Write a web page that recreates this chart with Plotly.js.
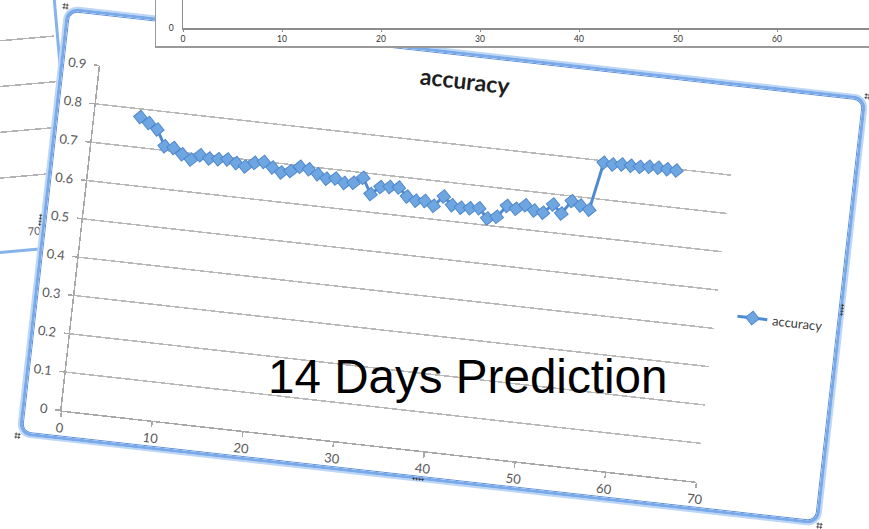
<!DOCTYPE html>
<html><head><meta charset="utf-8">
<script src="https://cdn.plot.ly/plotly-3.0.1.min.js"></script>
<style>
html,body{margin:0;padding:0;width:869px;height:529px;overflow:hidden;background:#fff;}
#stage{position:relative;width:869px;height:529px;overflow:hidden;background:#fff;}
.wrap{position:absolute;}
.plot{position:absolute;left:0;top:0;}
.frame{position:absolute;left:0;top:0;right:0;bottom:0;box-sizing:border-box;pointer-events:none;}
#backwrap{left:-327px;top:-19px;width:402px;height:270px;transform-origin:360px 240px;transform:rotate(-5deg);z-index:1;background:#fff;}
#backframe{border:3px solid #86b3ea;border-radius:10px;}
#mainwrap{left:40px;top:51px;width:805px;height:430px;transform:rotate(6.4deg);z-index:2;background:#fff;border-radius:12px;}
#mainframe{border:3px solid #79a9e9;border-radius:12px;box-shadow:0 0 0 2px #bcd6f6, inset 0 0 0 1px #5a8ed6;}
#topwrap{left:155px;top:-100px;width:760px;height:148px;z-index:3;background:#fff;border-left:1.5px solid #9a9a9a;border-bottom:2px solid #9a9a9a;box-sizing:border-box;}
.h{position:absolute;background-image:radial-gradient(circle,#333 0.9px,transparent 1.3px);background-size:3px 3px;}
#overlay{position:absolute;left:0;top:0;z-index:4;pointer-events:none;}
</style>
</head><body>
<div id="stage">
  <div id="backwrap" class="wrap"><div id="backplot" class="plot"></div><div id="backframe" class="frame"></div></div>
  <div id="mainwrap" class="wrap">
    <div id="mainplot" class="plot"></div>
    <div id="mainframe" class="frame"></div>
    <div class="h" style="left:-4px;top:-4px;width:6px;height:6px;"></div>
    <div class="h" style="left:-4px;top:208px;width:3px;height:12px;"></div>
    <div class="h" style="left:-4px;top:428px;width:6px;height:6px;"></div>
    <div class="h" style="left:396px;top:428px;width:12px;height:3px;"></div>
    <div class="h" style="left:803px;top:428px;width:6px;height:6px;"></div>
    <div class="h" style="left:803px;top:208px;width:3px;height:12px;"></div>
    <div class="h" style="left:803px;top:-4px;width:6px;height:6px;"></div>
  </div>
  <div id="topwrap" class="wrap"><div id="topplot" class="plot"></div></div>
  <svg id="overlay" width="869" height="529"><text x="268" y="393" font-family="Liberation Sans, Arial, sans-serif" font-size="47.6" fill="#000">14 Days Prediction</text></svg>
</div>
<script>
// ---- main chart data ----
const seriesName = 'accuracy';
const accX = [5,6,7,8,9,10,11,12,13,14,15,16,17,18,19,20,21,22,23,24,25,26,27,28,29,30,31,32,33,34,35,36,37,38,39,40,41,42,43,44,45,46,47,48,49,50,51,52,53,54,55,56,57,58,59,60,61,62,63,64];
const accY = [0.779,0.766,0.752,0.711,0.709,0.695,0.684,0.698,0.692,0.693,0.695,0.688,0.682,0.694,0.699,0.687,0.677,0.683,0.697,0.693,0.683,0.674,0.677,0.668,0.671,0.687,0.647,0.668,0.671,0.672,0.651,0.643,0.645,0.635,0.662,0.642,0.638,0.639,0.642,0.618,0.625,0.656,0.651,0.663,0.652,0.649,0.673,0.652,0.687,0.678,0.670,0.795,0.793,0.796,0.795,0.795,0.798,0.798,0.797,0.796];
const xTickVals = [0,10,20,30,40,50,60,70];
const xTickText = ['0','10','20','30','40','50','60','70'];
const yTickVals = [0,0.1,0.2,0.3,0.4,0.5,0.6,0.7,0.8,0.9];
const yTickText = ['0','0.1','0.2','0.3','0.4','0.5','0.6','0.7','0.8','0.9'];
// ---- background charts ----
const topTickVals = [0,10,20,30,40,50,60];
const topTickText = ['0','10','20','30','40','50','60'];
const backXTickVals = [70];
const backXTickText = ['70'];
const backYTickVals = [0,1,2,3,4,5];

const cfg = {staticPlot:true, displayModeBar:false};
const lato = 'Lato, Carlito, Calibri, sans-serif';

Plotly.newPlot('mainplot', [{
  type:'scatter', mode:'lines+markers', name:seriesName,
  x:accX, y:accY,
  line:{color:'#4f8ad4', width:3},
  marker:{symbol:'diamond', size:10.5, color:'#6ea6e2', line:{color:'#5088cc', width:1}}
}], {
  width:805, height:430,
  margin:{l:40, r:126, t:54, b:29, autoexpand:false},
  paper_bgcolor:'rgba(0,0,0,0)', plot_bgcolor:'#fff',
  title:{text:'accuracy', font:{family:lato, size:23, color:'#1e1e1e', weight:'bold'},
         x:0.502, xref:'container', xanchor:'center', y:1-29/430, yref:'container', yanchor:'middle'},
  xaxis:{range:[0,70], tickmode:'array', tickvals:xTickVals, ticktext:xTickText, showgrid:false, zeroline:false,
         showline:true, linecolor:'#a8a8a8', linewidth:1.5, ticks:'outside', ticklen:5, tickcolor:'#a8a8a8', tickwidth:1.5,
         tickfont:{family:lato, size:13, color:'#595959'}, ticklabelstandoff:0},
  yaxis:{range:[0,0.9], tickmode:'array', tickvals:yTickVals, ticktext:yTickText, showgrid:true, gridcolor:'#b9b9b9', gridwidth:1.5,
         zeroline:false, showline:true, linecolor:'#a8a8a8', linewidth:1.5, ticks:'outside', ticklen:5, tickcolor:'#a8a8a8', tickwidth:1.5,
         tickfont:{family:lato, size:13, color:'#595959'}, ticklabelstandoff:5},
  showlegend:true,
  legend:{x:1.027, xanchor:'left', y:0.4865, yanchor:'middle', font:{family:lato, size:13, color:'#404040'}, bgcolor:'rgba(0,0,0,0)', borderwidth:0}
}, cfg);

Plotly.newPlot('topplot', [], {
  width:757, height:146,
  margin:{l:27, r:37, t:0, b:18, autoexpand:false},
  paper_bgcolor:'#fff', plot_bgcolor:'#fff', showlegend:false,
  xaxis:{range:[0,70], tickmode:'array', tickvals:topTickVals, ticktext:topTickText, showgrid:false, zeroline:false,
         showline:true, linecolor:'#8c8c8c', linewidth:1.5, ticks:'outside', ticklen:2, tickcolor:'#8c8c8c',
         tickfont:{family:lato, size:8.5, color:'#333'}, ticklabelstandoff:0},
  yaxis:{range:[0,10], tickmode:'array', tickvals:[0], ticktext:['0'], showgrid:false, zeroline:false,
         showline:true, linecolor:'#8c8c8c', linewidth:1.5, ticks:'',
         tickfont:{family:lato, size:8.5, color:'#333'}, ticklabelstandoff:6}
}, cfg);

Plotly.newPlot('backplot', [], {
  width:402, height:270,
  margin:{l:40, r:5.4, t:12, b:30, autoexpand:false},
  paper_bgcolor:'rgba(0,0,0,0)', plot_bgcolor:'#fff', showlegend:false,
  xaxis:{range:[0,78], tickmode:'array', tickvals:backXTickVals, ticktext:backXTickText, showgrid:false, zeroline:false,
         showline:false, ticks:'', tickfont:{family:lato, size:11, color:'#555'}, ticklabelstandoff:2},
  yaxis:{range:[0,5], tickmode:'array', tickvals:backYTickVals, showticklabels:false, showgrid:true, gridcolor:'#b3b3b3', gridwidth:1.5,
         zeroline:false, showline:false, ticks:''}
}, cfg);
</script>
</body></html>
